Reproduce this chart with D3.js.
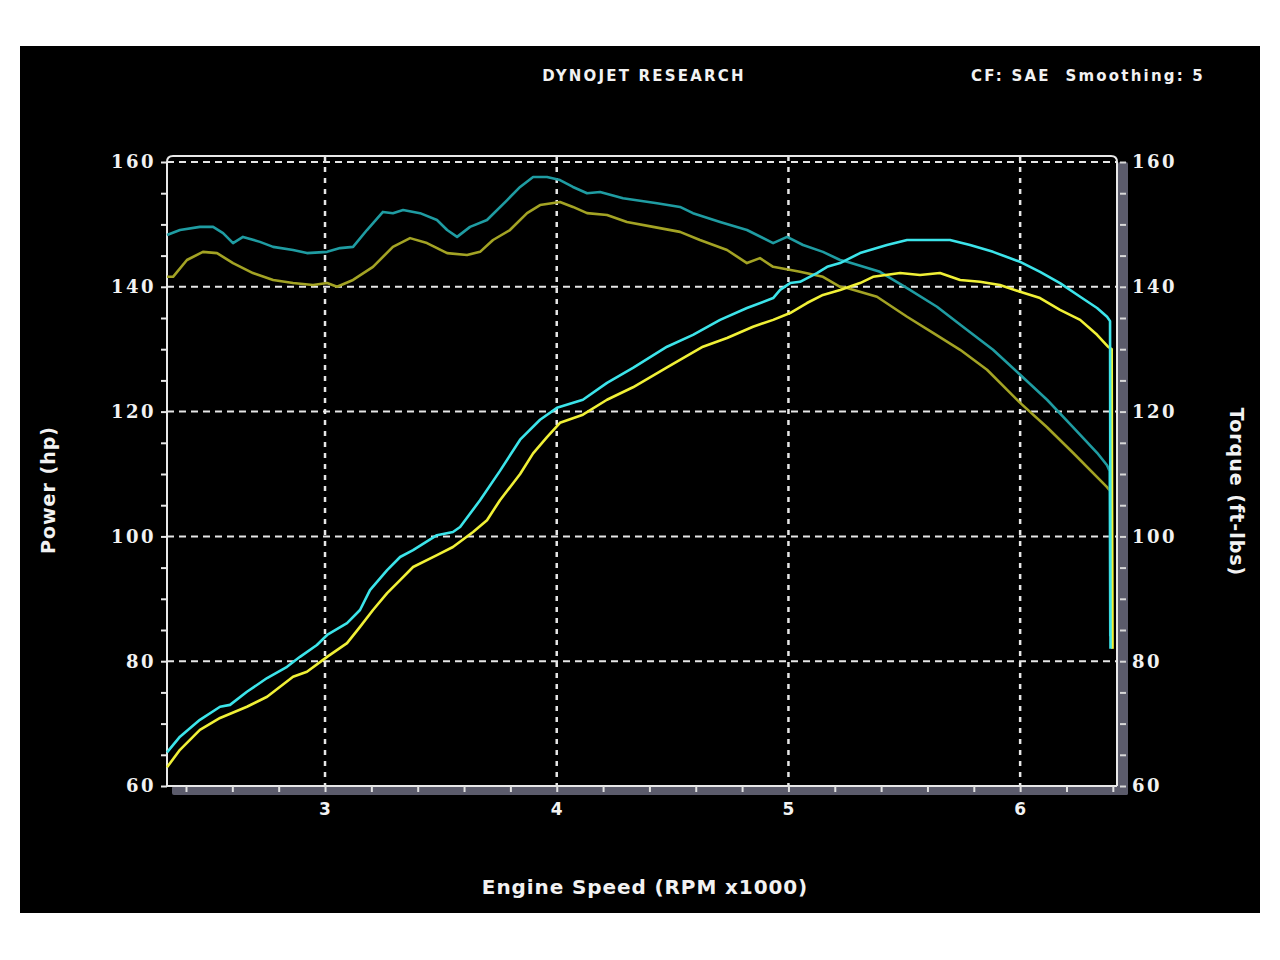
<!DOCTYPE html>
<html>
<head>
<meta charset="utf-8">
<script src="https://cdn.jsdelivr.net/npm/d3@7"></script>
<style>
  html, body { margin: 0; padding: 0; background: #ffffff; }
  svg { display: block; }
</style>
</head>
<body>
<svg id="chart" width="1280" height="960"></svg>
<script>
// ---------- DATA ----------
const titleText = "DYNOJET RESEARCH";
const infoText = "CF: SAE  Smoothing: 5";
const xLabel = "Engine Speed (RPM x1000)";
const yLeftLabel = "Power (hp)";
const yRightLabel = "Torque (ft-lbs)";
const xTickLabels = [3, 4, 5, 6];
const yTickLabels = [60, 80, 100, 120, 140, 160];

// Power run A (bright cyan)
const powerA_rpm = [2.318,2.374,2.460,2.547,2.590,2.663,2.750,2.836,2.892,2.965,3.009,3.095,3.151,3.194,3.268,3.324,3.380,3.483,3.552,3.583,3.669,3.755,3.842,3.928,4.001,4.113,4.217,4.329,4.476,4.588,4.705,4.821,4.934,4.964,5.007,5.050,5.123,5.167,5.223,5.309,5.425,5.512,5.611,5.697,5.784,5.883,6.000,6.086,6.172,6.259,6.332,6.375,6.388,6.390];
const powerA_hp  = [65.4,67.9,70.6,72.7,73.0,75.1,77.3,79.1,80.7,82.6,84.2,86.1,88.2,91.4,94.6,96.7,97.8,100.2,100.7,101.5,105.8,110.5,115.5,118.7,120.6,121.9,124.6,127.0,130.4,132.3,134.7,136.6,138.2,139.5,140.6,140.8,142.2,143.2,143.8,145.4,146.7,147.5,147.5,147.5,146.7,145.6,144.0,142.4,140.6,138.4,136.6,135.2,134.5,82.0];

// Power run B (bright yellow)
const powerB_rpm = [2.318,2.374,2.460,2.547,2.663,2.750,2.862,2.922,3.009,3.095,3.151,3.207,3.268,3.324,3.380,3.483,3.552,3.639,3.699,3.755,3.842,3.898,3.958,4.014,4.113,4.217,4.329,4.476,4.631,4.735,4.847,4.934,5.007,5.080,5.149,5.223,5.309,5.365,5.482,5.568,5.654,5.741,5.827,5.913,6.000,6.086,6.172,6.259,6.332,6.379,6.395,6.398];
const powerB_hp  = [63.0,65.8,69.0,70.9,72.7,74.3,77.5,78.3,80.7,82.9,85.5,88.2,90.9,93.0,95.1,97.0,98.3,100.7,102.6,105.8,110.0,113.3,115.9,118.2,119.5,121.9,123.9,127.1,130.4,131.8,133.6,134.7,135.8,137.4,138.7,139.5,140.6,141.6,142.2,141.9,142.2,141.1,140.8,140.3,139.2,138.2,136.3,134.7,132.3,130.4,130.0,82.0];

// Torque run A (dark teal)
const torqueA_rpm = [2.318,2.374,2.460,2.517,2.560,2.603,2.646,2.719,2.776,2.862,2.922,3.009,3.065,3.121,3.181,3.250,3.293,3.337,3.410,3.483,3.527,3.570,3.626,3.699,3.786,3.842,3.898,3.958,4.014,4.070,4.131,4.187,4.286,4.433,4.532,4.588,4.705,4.821,4.934,4.994,5.063,5.149,5.223,5.253,5.395,5.512,5.641,5.753,5.883,6.000,6.116,6.228,6.332,6.375,6.386,6.389];
const torqueA_ft = [148.3,149.1,149.6,149.6,148.6,147.0,148.0,147.2,146.4,145.9,145.4,145.6,146.2,146.4,149.1,152.0,151.8,152.3,151.8,150.7,149.1,148.0,149.6,150.7,153.9,156.0,157.6,157.6,157.1,156.0,155.0,155.2,154.2,153.4,152.8,151.8,150.4,149.1,147.0,148.0,146.7,145.6,144.3,144.0,142.4,139.8,136.8,133.6,129.9,125.9,121.9,117.5,113.4,111.4,110.5,84.0];

// Torque run B (olive)
const torqueB_rpm = [2.318,2.344,2.404,2.473,2.534,2.603,2.689,2.776,2.862,2.948,3.009,3.052,3.121,3.207,3.293,3.367,3.440,3.527,3.613,3.669,3.725,3.798,3.872,3.928,4.014,4.070,4.131,4.217,4.303,4.416,4.532,4.618,4.735,4.821,4.877,4.934,5.050,5.149,5.223,5.253,5.382,5.512,5.624,5.741,5.857,6.000,6.116,6.228,6.375,6.395,6.398];
const torqueB_ft = [141.6,141.6,144.3,145.6,145.4,143.8,142.2,141.1,140.6,140.3,140.6,140.0,141.1,143.2,146.4,147.8,147.0,145.4,145.1,145.6,147.5,149.1,151.8,153.1,153.6,152.8,151.8,151.5,150.4,149.6,148.8,147.5,145.9,143.8,144.6,143.2,142.4,141.6,140.0,139.8,138.4,135.2,132.6,129.9,126.7,121.4,117.5,113.4,107.9,107.0,82.0];

// ---------- DRAW ----------
const svg = d3.select("#chart");

// black panel
svg.append("rect").attr("x", 20).attr("y", 46).attr("width", 1240).attr("height", 867).attr("fill", "#000");

const x = d3.scaleLinear().domain([2.318, 6.418]).range([167, 1117]);
const y = d3.scaleLinear().domain([60, 160]).range([786, 162]);

const plotL = 167, plotR = 1117, plotT = 156, plotB = 786;

// shadow bars (bottom & right)
svg.append("rect").attr("x", plotL + 5).attr("y", plotB).attr("width", plotR - plotL + 6).attr("height", 9)
  .attr("fill", "#5b5b6b").attr("rx", 2);
svg.append("rect").attr("x", plotR + 1).attr("y", plotT + 6).attr("width", 10).attr("height", plotB - plotT + 3)
  .attr("fill", "#5b5b6b").attr("rx", 2);

// grid
const gridColor = "#e6e6e6";
const grid = svg.append("g");
yTickLabels.forEach(v => {
  grid.append("line").attr("x1", plotL).attr("x2", plotR).attr("y1", y(v)).attr("y2", y(v))
    .attr("stroke", gridColor).attr("stroke-width", 2).attr("stroke-dasharray", "7,5");
});
xTickLabels.forEach(v => {
  grid.append("line").attr("x1", x(v)).attr("x2", x(v)).attr("y1", plotT).attr("y2", plotB)
    .attr("stroke", gridColor).attr("stroke-width", 2.5).attr("stroke-dasharray", "5,6");
});

// frame
svg.append("path")
  .attr("d", `M${plotL},${plotB} L${plotL},${plotT + 6} Q${plotL},${plotT} ${plotL + 6},${plotT} L${plotR - 6},${plotT} Q${plotR},${plotT} ${plotR},${plotT + 6} L${plotR},${plotB}`)
  .attr("fill", "none").attr("stroke", "#e8e8e8").attr("stroke-width", 2);
svg.append("line").attr("x1", plotL).attr("x2", plotR).attr("y1", plotB).attr("y2", plotB)
  .attr("stroke", "#e8e8e8").attr("stroke-width", 2);

// left axis
const leftAxis = d3.axisLeft(y).tickValues(d3.range(60, 161, 5)).tickSize(6).tickFormat(() => "");
const gl = svg.append("g").attr("transform", `translate(${plotL},0)`).call(leftAxis);
gl.select(".domain").remove();
gl.selectAll(".tick line").attr("stroke", "#e8e8e8").attr("stroke-width", 2);

// right axis ticks
const rightAxis = d3.axisRight(y).tickValues(d3.range(60, 161, 5)).tickSize(6).tickFormat(() => "");
const gr = svg.append("g").attr("transform", `translate(${plotR + 3},0)`).call(rightAxis);
gr.select(".domain").remove();
gr.selectAll(".tick line").attr("stroke", "#d8d8d8").attr("stroke-width", 2);

// bottom axis ticks
const bottomAxis = d3.axisBottom(x).tickValues(d3.range(2.4, 6.41, 0.2)).tickSize(6).tickFormat(() => "");
const gb = svg.append("g").attr("transform", `translate(0,${plotB})`).call(bottomAxis);
gb.select(".domain").remove();
gb.selectAll(".tick line").attr("stroke", "#e0e0e0").attr("stroke-width", 2);

// tick labels
const labelFill = "#f2f2f2";
yTickLabels.forEach(v => {
  svg.append("text").attr("x", 156).attr("y", y(v)).attr("dy", "0.35em").attr("text-anchor", "end")
    .attr("font-family", "DejaVu Serif").attr("font-weight", "bold").attr("font-size", 18)
    .attr("letter-spacing", 2.5).attr("fill", labelFill).text(v);
  svg.append("text").attr("x", 1132).attr("y", y(v)).attr("dy", "0.35em").attr("text-anchor", "start")
    .attr("font-family", "DejaVu Serif").attr("font-weight", "bold").attr("font-size", 18)
    .attr("letter-spacing", 2.5).attr("fill", labelFill).text(v);
});
xTickLabels.forEach(v => {
  svg.append("text").attr("x", x(v)).attr("y", 815).attr("text-anchor", "middle")
    .attr("font-family", "DejaVu Sans").attr("font-weight", "bold").attr("font-size", 17)
    .attr("fill", labelFill).text(v);
});

// titles
svg.append("text").attr("x", 644).attr("y", 81).attr("text-anchor", "middle")
  .attr("font-family", "DejaVu Sans").attr("font-weight", "bold").attr("font-size", 15)
  .attr("letter-spacing", 2.2).attr("fill", labelFill).text(titleText);
svg.append("text").attr("x", 1205).attr("y", 81).attr("text-anchor", "end")
  .attr("font-family", "DejaVu Sans").attr("font-weight", "bold").attr("font-size", 15)
  .attr("letter-spacing", 2.2).attr("fill", labelFill).style("white-space", "pre").text(infoText);
svg.append("text").attr("x", 645).attr("y", 894).attr("text-anchor", "middle")
  .attr("font-family", "DejaVu Sans").attr("font-weight", "bold").attr("font-size", 20)
  .attr("letter-spacing", 0.9).attr("fill", labelFill).text(xLabel);
svg.append("text").attr("transform", "translate(55,490) rotate(-90)").attr("text-anchor", "middle")
  .attr("font-family", "DejaVu Sans").attr("font-weight", "bold").attr("font-size", 19)
  .attr("letter-spacing", 1).attr("fill", labelFill).text(yLeftLabel);
svg.append("text").attr("transform", "translate(1230,492) rotate(90)").attr("text-anchor", "middle")
  .attr("font-family", "DejaVu Sans").attr("font-weight", "bold").attr("font-size", 19)
  .attr("letter-spacing", 1).attr("fill", labelFill).text(yRightLabel);

// curves
const line = d3.line().x(d => x(d[0])).y(d => y(d[1]));
const series = [
  { rpm: torqueB_rpm, val: torqueB_ft, color: "#a3a324" },
  { rpm: torqueA_rpm, val: torqueA_ft, color: "#1f9ca2" },
  { rpm: powerB_rpm,  val: powerB_hp,  color: "#f0f036" },
  { rpm: powerA_rpm,  val: powerA_hp,  color: "#3ce4ea" }
];
series.forEach(s => {
  const pts = s.rpm.map((r, i) => [r, s.val[i]]);
  svg.append("path").datum(pts).attr("d", line).attr("fill", "none")
    .attr("stroke", s.color).attr("stroke-width", 2.6).attr("stroke-linejoin", "round");
});
</script>
</body>
</html>
